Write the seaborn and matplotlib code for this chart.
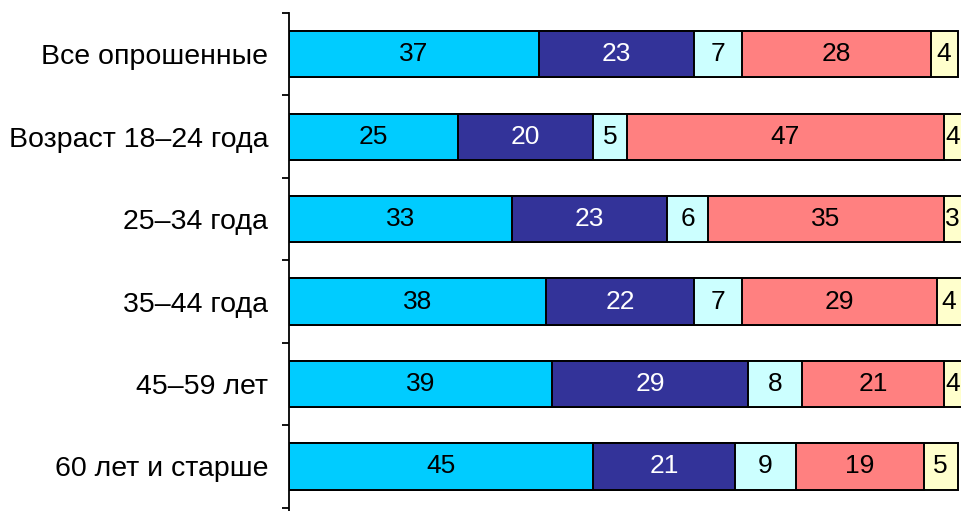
import matplotlib
matplotlib.use("Agg")
import matplotlib.pyplot as plt
import seaborn as sns
import numpy as np
import pandas as pd

groups = ["Все опрошенные", "Возраст 18–24 года", "25–34 года",
          "35–44 года", "45–59 лет", "60 лет и старше"]
seg1 = [37, 25, 33, 38, 39, 45]
seg2 = [23, 20, 23, 22, 29, 21]
seg3 = [7, 5, 6, 7, 8, 9]
seg4 = [28, 47, 35, 29, 21, 19]
seg5 = [4, 4, 3, 4, 4, 5]

segments = [seg1, seg2, seg3, seg4, seg5]
colors = ["#00CCFF", "#333399", "#CCFFFF", "#FF8080", "#FFFFCC"]
text_colors = ["black", "white", "black", "black", "black"]

sns.set_theme(style="white")
plt.rcParams["font.family"] = ["Liberation Sans", "DejaVu Sans"]

fig = plt.figure(figsize=(9.61, 5.11), dpi=100)
ax = fig.add_axes([289 / 961, 0.0, 1 - 289 / 961, 1 - 13 / 511])

XMAX = 99.5

vals = np.array(segments, dtype=float)
cum = np.cumsum(vals, axis=0)
starts = cum - vals

# stacked bars: draw cumulative totals from the outermost segment inward
for i in reversed(range(len(segments))):
    df = pd.DataFrame({"group": groups, "total": cum[i]})
    sns.barplot(data=df, x="total", y="group", orient="h", color=colors[i],
                saturation=1, edgecolor="black", linewidth=1.4, width=0.56,
                ax=ax)

# value labels, centred on the visible part of each segment
for i in range(len(segments)):
    for j in range(len(groups)):
        left = starts[i, j]
        right = min(cum[i, j], XMAX)
        ax.text((left + right) / 2, j, f"{int(vals[i, j])}",
                ha="center", va="center", fontsize=19, color=text_colors[i])

ax.set_xlim(0, XMAX)
ax.set_ylim(5.54, -0.5)
ax.set_xlabel("")
ax.set_ylabel("")
ax.set_xticks([])

ax.set_yticks(range(len(groups)))
ax.set_yticklabels(groups, fontsize=20.5)
ax.set_yticks(np.arange(-0.5, len(groups) + 0.5, 1), minor=True)
ax.tick_params(axis="y", which="major", length=0, pad=15, colors="black")
ax.tick_params(axis="y", which="minor", left=True, length=5, width=1.3,
               color="black")

for side in ["top", "right", "bottom"]:
    ax.spines[side].set_visible(False)
ax.spines["left"].set_color("black")
ax.spines["left"].set_linewidth(1.3)
ax.patch.set_alpha(0)

fig.savefig("out.png", dpi=100, facecolor="white")
